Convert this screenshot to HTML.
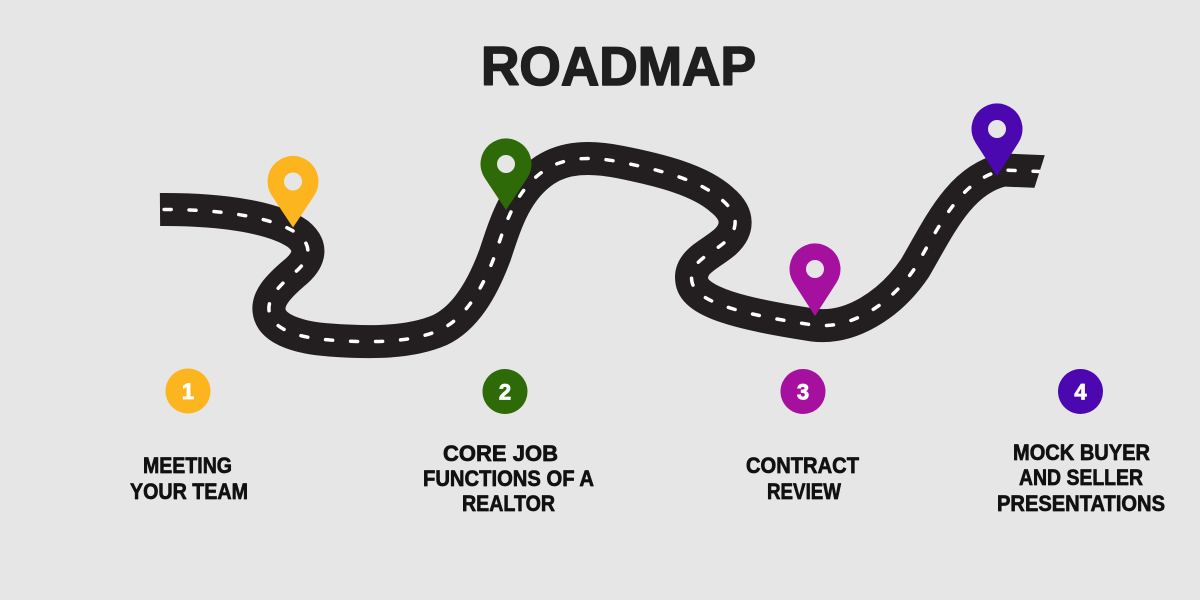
<!DOCTYPE html>
<html>
<head>
<meta charset="utf-8">
<style>
  html,body{margin:0;padding:0;background:#e6e6e6;}
  svg{display:block;}
  text{font-family:"Liberation Sans",Arial,sans-serif;font-weight:bold;}
</style>
</head>
<body>
<svg width="1200" height="600" viewBox="0 0 1200 600" xmlns="http://www.w3.org/2000/svg">
  <rect width="1200" height="600" fill="#e6e6e6"/>

  <!-- Title -->
  <text x="481" y="85" font-size="55" fill="#1f1f1f" stroke="#1f1f1f" stroke-width="1.6" stroke-linejoin="round" textLength="275" lengthAdjust="spacingAndGlyphs">ROADMAP</text>

  <!-- Road -->
  <g fill="none">
    <path d="M160,209.5 C225,209 275,218 298,234
      C315,248 308,262 293,274
      C278,287 265,300 270,315
      C275,330 300,338 330,340
      C370,343 410,343 440,330
      C465,318 482,290 495,255
      C505,225 515,190 545,170
      C565,157 590,156 620,162
      C660,170 700,180 722,200
      C740,215 738,230 725,242
      C710,255 688,262 692,282
      C696,302 740,314 813,325
      C850,330 890,305 915,268
      C940,225 960,180 1003,170
      L1052,172"
      stroke="#231f20" stroke-width="33" stroke-linejoin="round"/>
    <path d="M160,209.5 C225,209 275,218 298,234
      C315,248 308,262 293,274
      C278,287 265,300 270,315
      C275,330 300,338 330,340
      C370,343 410,343 440,330
      C465,318 482,290 495,255
      C505,225 515,190 545,170
      C565,157 590,156 620,162
      C660,170 700,180 722,200
      C740,215 738,230 725,242
      C710,255 688,262 692,282
      C696,302 740,314 813,325
      C850,330 890,305 915,268
      C940,225 960,180 1003,170
      L1052,172"
      stroke="#ffffff" stroke-width="3.5" stroke-linecap="round" stroke-dasharray="7 18" stroke-dashoffset="-4"/>
  </g>
  <!-- slanted cut at road end -->
  <polygon points="1048,145 1090,145 1090,205 1029,205" fill="#e6e6e6"/>

  <!-- Pins -->
  <g transform="translate(293,181.5)">
    <path d="M-21.2,14.1 A25.5,25.5 0 1 1 21.2,14.1 L0,46 Z" fill="#fcb41f"/>
    <circle cx="0" cy="0" r="9" fill="#e6e6e6"/>
  </g>
  <g transform="translate(506,164)">
    <path d="M-21.2,14.1 A25.5,25.5 0 1 1 21.2,14.1 L0,46 Z" fill="#2e6a07"/>
    <circle cx="0" cy="0" r="9" fill="#e6e6e6"/>
  </g>
  <g transform="translate(815,269)">
    <path d="M-21.2,14.1 A25.5,25.5 0 1 1 21.2,14.1 L0,47 Z" fill="#a5109f"/>
    <circle cx="0" cy="0" r="9" fill="#e6e6e6"/>
  </g>
  <g transform="translate(997,129)">
    <path d="M-21.2,14.1 A25.5,25.5 0 1 1 21.2,14.1 L0,47 Z" fill="#4b08b1"/>
    <circle cx="0" cy="0" r="9" fill="#e6e6e6"/>
  </g>

  <!-- Number circles -->
  <circle cx="188" cy="391" r="22.5" fill="#fcb41f"/>
  <circle cx="505" cy="391.5" r="22.5" fill="#2e6a07"/>
  <circle cx="803" cy="391.5" r="22.5" fill="#a5109f"/>
  <circle cx="1080.5" cy="391.5" r="22.5" fill="#4b08b1"/>
  <g fill="#ffffff" stroke="#ffffff" stroke-width="0.8" font-size="22" text-anchor="middle">
    <text x="188" y="399">1</text>
    <text x="505" y="399.5">2</text>
    <text x="803" y="399.5">3</text>
    <text x="1080.5" y="399.5">4</text>
  </g>

  <!-- Labels -->
  <g fill="#111111" stroke="#111111" stroke-width="0.7" stroke-linejoin="round" font-size="22">
    <text x="143" y="473" textLength="89" lengthAdjust="spacingAndGlyphs">MEETING</text>
    <text x="130" y="499" textLength="118" lengthAdjust="spacingAndGlyphs">YOUR TEAM</text>

    <text x="443" y="461" textLength="115" lengthAdjust="spacingAndGlyphs">CORE JOB</text>
    <text x="423" y="486" textLength="171" lengthAdjust="spacingAndGlyphs">FUNCTIONS OF A</text>
    <text x="462" y="511" textLength="93" lengthAdjust="spacingAndGlyphs">REALTOR</text>

    <text x="746" y="473" textLength="113" lengthAdjust="spacingAndGlyphs">CONTRACT</text>
    <text x="767" y="499" textLength="74" lengthAdjust="spacingAndGlyphs">REVIEW</text>

    <text x="1013" y="460" textLength="137" lengthAdjust="spacingAndGlyphs">MOCK BUYER</text>
    <text x="1019" y="485" textLength="124" lengthAdjust="spacingAndGlyphs">AND SELLER</text>
    <text x="997" y="511" textLength="168" lengthAdjust="spacingAndGlyphs">PRESENTATIONS</text>
  </g>
</svg>
</body>
</html>
